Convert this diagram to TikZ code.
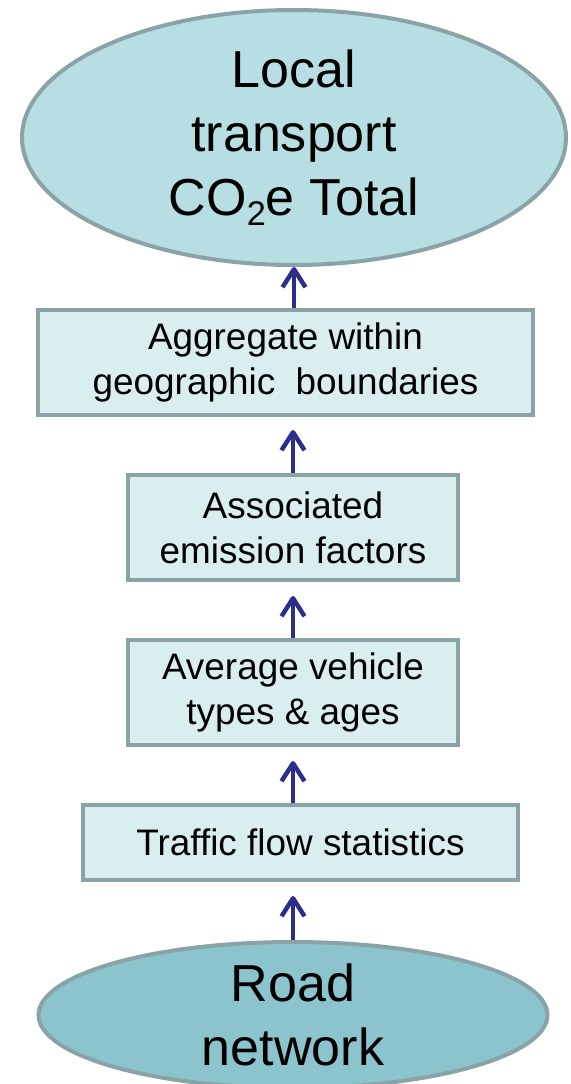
\documentclass[tikz,border=0pt]{standalone}
\usepackage{fontspec}
\setmainfont{Liberation Sans}
\usepackage{tikz}
\usetikzlibrary{shapes.geometric, positioning, arrows.meta}
\definecolor{TopTeal}{RGB}{183,222,226}
\definecolor{BoxTeal}{RGB}{218,238,240}
\definecolor{BaseTeal}{RGB}{139,196,204}
\definecolor{EdgeGrey}{RGB}{138,163,166}
\definecolor{ArrNavy}{RGB}{44,46,140}
\newcommand{\lowtwo}{\raisebox{-0.2em}{\fontsize{19.5}{19.5}\selectfont 2}}

\begin{document}
\begin{tikzpicture}[
            oval/.style={ellipse, draw=EdgeGrey, line width=0.08cm, inner sep=0pt,
                        font=\fontsize{29.6}{36.4}\selectfont, align=center},
            box/.style={rectangle, draw=EdgeGrey, line width=0.08cm, fill=BoxTeal,
                        minimum height=2.1cm, inner sep=0pt,
                        font=\fontsize{21}{25.6}\selectfont, align=center},
            arr/.style={-{Straight Barb[length=0.36cm, width=0.46cm, line join=round]},
                        ArrNavy, line width=0.09cm}
          ]
          \clip (0,0) rectangle (11.4,-21.68);
          \node[oval, fill=TopTeal, minimum width=10.88cm, minimum height=5.1cm] (total) at (5.88,-2.75)
                {Local\\transport\\CO\lowtwo e Total};
          \node[box, minimum width=9.9cm] (agg) at (5.71,-7.25)
                {Aggregate within\\geographic~ boundaries};
          \node[box, minimum width=6.6cm] (emis) at (5.86,-10.55)
                {Associated\\emission factors};
          \node[box, minimum width=6.6cm] (fleet) at (5.86,-13.85)
                {Average vehicle\\types \& ages};
          \node[box, minimum width=8.7cm, minimum height=1.5cm] (flow) at (6.01,-16.85)
                {Traffic flow statistics};
          \node[oval, fill=BaseTeal, minimum width=10.18cm, minimum height=2.92cm] (road) at (5.86,-20.3)
                {Road\\network};

          \draw[arr] (agg.north -| total.south) -- (total.south);
          \draw[arr, shorten >=0.26cm] (emis.north) -- (emis.north |- agg.south);
          \draw[arr, shorten >=0.28cm] (fleet.north) -- (emis.south);
          \draw[arr, shorten >=0.28cm] (fleet.south |- flow.north) -- (fleet.south);
          \draw[arr, shorten >=0.28cm] (road.north) -- (road.north |- flow.south);
        \end{tikzpicture}
\end{document}
